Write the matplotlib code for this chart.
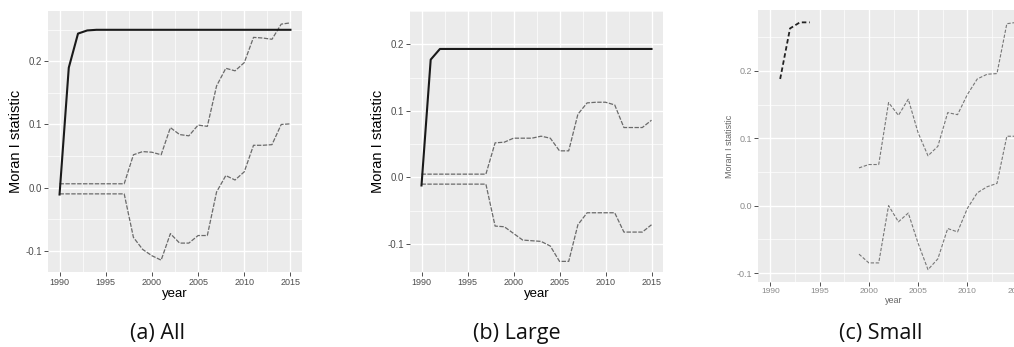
import numpy as np
import matplotlib.pyplot as plt

years = list(range(1990, 2016))

nan = np.nan

# (a) All
all_est = [-0.011, 0.190, 0.244, 0.249, 0.250, 0.250, 0.250, 0.250, 0.250, 0.250,
           0.250, 0.250, 0.250, 0.250, 0.250, 0.250, 0.250, 0.250, 0.250, 0.250,
           0.250, 0.250, 0.250, 0.250, 0.250, 0.250]
all_upper = [0.006, 0.006, 0.006, 0.006, 0.006, 0.006, 0.006, 0.006, 0.052, 0.057,
             0.056, 0.052, 0.095, 0.084, 0.082, 0.099, 0.097, 0.161, 0.189, 0.185,
             0.198, 0.238, 0.237, 0.235, 0.259, 0.261]
all_lower = [-0.010, -0.010, -0.010, -0.010, -0.010, -0.010, -0.010, -0.010, -0.079, -0.098,
             -0.108, -0.115, -0.073, -0.088, -0.088, -0.076, -0.076, -0.007, 0.019, 0.012,
             0.025, 0.067, 0.067, 0.068, 0.100, 0.101]

# (b) Large
large_est = [-0.012, 0.177, 0.193, 0.193, 0.193, 0.193, 0.193, 0.193, 0.193, 0.193,
             0.193, 0.193, 0.193, 0.193, 0.193, 0.193, 0.193, 0.193, 0.193, 0.193,
             0.193, 0.193, 0.193, 0.193, 0.193, 0.193]
large_upper = [0.005, 0.005, 0.005, 0.005, 0.005, 0.005, 0.005, 0.005, 0.052, 0.053,
               0.059, 0.059, 0.059, 0.062, 0.059, 0.040, 0.040, 0.095, 0.112, 0.113,
               0.113, 0.109, 0.075, 0.075, 0.075, 0.086]
large_lower = [-0.010, -0.010, -0.010, -0.010, -0.010, -0.010, -0.010, -0.010, -0.073, -0.074,
               -0.084, -0.094, -0.095, -0.096, -0.103, -0.126, -0.126, -0.071, -0.053, -0.053,
               -0.053, -0.053, -0.082, -0.082, -0.082, -0.071]

# (c) Small
small_est = [nan, 0.188, 0.263, 0.272, 0.272, nan, nan, nan, nan, nan,
             nan, nan, nan, nan, nan, nan, nan, nan, nan, nan,
             nan, nan, nan, nan, nan, nan]
small_upper = [nan, nan, nan, nan, nan, nan, nan, nan, nan, 0.056,
               0.061, 0.061, 0.153, 0.134, 0.158, 0.108, 0.074, 0.088, 0.138, 0.135,
               0.165, 0.188, 0.195, 0.196, 0.270, 0.272]
small_lower = [nan, nan, nan, nan, nan, nan, nan, nan, nan, -0.072,
               -0.085, -0.085, 0.000, -0.024, -0.011, -0.056, -0.095, -0.079, -0.034, -0.039,
               -0.004, 0.019, 0.028, 0.033, 0.103, 0.103]

x_ticks = [1990, 1995, 2000, 2005, 2010, 2015]
y_ticks = [-0.1, 0.0, 0.1, 0.2]
captions = ['(a) All', '(b) Large', '(c) Small']

plt.rcParams['font.family'] = ['Liberation Sans', 'DejaVu Sans']


def panel(ax, est, upper, lower, small=False):
    # ggplot-ish grey theme
    ax.set_facecolor('#EBEBEB')
    for s in ax.spines.values():
        s.set_visible(False)

    dash = (0, (3.5, 1.2))
    if small:
        ax.plot(years, est, color='#222222', lw=1.3, linestyle=(0, (2.5, 1.5)))
        ax.plot(years, upper, color='#777777', lw=0.8, linestyle=(0, (3, 1.5)))
        ax.plot(years, lower, color='#777777', lw=0.8, linestyle=(0, (3, 1.5)))
    else:
        ax.plot(years, upper, color='#6a6a6a', lw=0.9, linestyle=dash)
        ax.plot(years, lower, color='#6a6a6a', lw=0.9, linestyle=dash)
        ax.plot(years, est, color='#1a1a1a', lw=1.5)

    # 5% expansion like ggplot
    lo = np.nanmin([np.nanmin(est), np.nanmin(upper), np.nanmin(lower)])
    hi = np.nanmax([np.nanmax(est), np.nanmax(upper), np.nanmax(lower)])
    pad = (hi - lo) * 0.05
    ax.set_ylim(lo - pad, hi + pad)
    ax.set_xlim(1990 - 1.25, 2015 + 1.25)

    ax.set_xticks(x_ticks)
    ax.set_yticks(y_ticks)
    ax.set_xticks([1992.5, 1997.5, 2002.5, 2007.5, 2012.5], minor=True)
    ax.set_yticks([t + 0.05 for t in y_ticks], minor=True)
    ax.grid(which='major', color='white', lw=1.0)
    ax.grid(which='minor', color='white', lw=0.5)
    ax.set_axisbelow(True)

    txt = '#8a8a8a' if small else '#4D4D4D'
    ax.tick_params(which='major', length=2.8, width=0.6, color='#333333',
                   labelcolor=txt, labelsize=6.5 if small else 7, pad=1.5)
    ax.tick_params(axis='x', labelsize=6 if small else 6.5)
    ax.tick_params(which='minor', length=0)
    ax.set_yticklabels(['%.1f' % t for t in y_ticks])
    ax.set_xlabel('year', fontsize=6.5 if small else 9.5,
                  color='#666666' if small else 'black', labelpad=1)
    ax.set_ylabel('Moran I statistic', fontsize=6.5 if small else 10.5,
                  color='#666666' if small else 'black', labelpad=2)


fig = plt.figure(figsize=(10.14, 3.47), dpi=100)

ax_a = fig.add_axes([48 / 1014, 75 / 347, 254 / 1014, 261 / 347])
panel(ax_a, all_est, all_upper, all_lower)

ax_b = fig.add_axes([410 / 1014, 75 / 347, 253 / 1014, 261 / 347])
panel(ax_b, large_est, large_upper, large_lower)

ax_c = fig.add_axes([758 / 1014, 65 / 347, 271 / 1014, 272 / 347])
panel(ax_c, small_est, small_upper, small_lower, small=True)

for cx, cap in zip([158, 517, 881], captions):
    fig.text(cx / 1014, (347 - 333) / 347, cap, ha='center', va='center',
             fontsize=15.5, family=['Liberation Sans Narrow', 'Open Sans', 'DejaVu Sans'],
             color='#111111')

fig.savefig('out.png', dpi=100)
